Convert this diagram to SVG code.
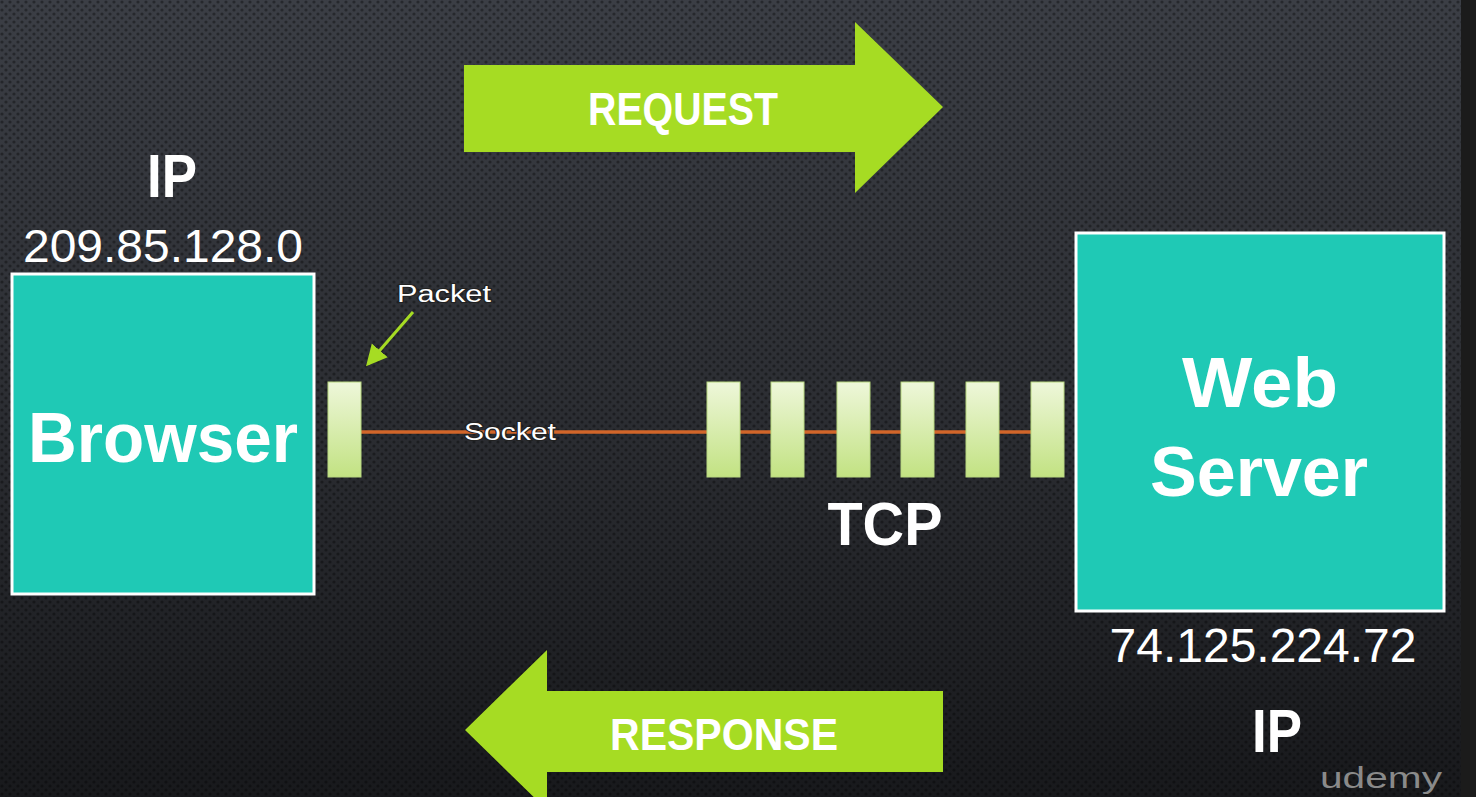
<svg xmlns="http://www.w3.org/2000/svg" width="1476" height="797" viewBox="0 0 1476 797">
  <defs>
    <linearGradient id="bg" x1="0" y1="0" x2="0" y2="1">
      <stop offset="0" stop-color="#3b3e45"/>
      <stop offset="0.5" stop-color="#2c2e33"/>
      <stop offset="1" stop-color="#18191c"/>
    </linearGradient>
    <pattern id="dots" width="8" height="8" patternUnits="userSpaceOnUse">
      <circle cx="2" cy="2" r="1.6" fill="#000" fill-opacity="0.35"/>
      <circle cx="6" cy="6" r="1.6" fill="#000" fill-opacity="0.35"/>
    </pattern>
    <linearGradient id="pk" x1="0" y1="0" x2="0" y2="1">
      <stop offset="0" stop-color="#eef7da"/>
      <stop offset="1" stop-color="#c2e282"/>
    </linearGradient>
    <marker id="ah" markerWidth="8" markerHeight="8" refX="6" refY="4" orient="auto" markerUnits="strokeWidth">
      <path d="M0,0.5 L7,4 L0,7.5 Z" fill="#a6dc23"/>
    </marker>
  </defs>
  <style>
    .box { fill: #1fc9b5; stroke: #ffffff; stroke-width: 3; }
    .pkt { fill: url(#pk); stroke: #b8d880; stroke-width: 1; }
    .big { fill: #ffffff; font-family: "Liberation Sans", Arial, sans-serif; font-weight: bold; }
    .num { fill: #ffffff; font-family: "Liberation Sans", Arial, sans-serif; font-weight: normal; }
    .small { fill: #ffffff; font-family: "Liberation Sans", Arial, sans-serif; font-size: 23px; paint-order: stroke; stroke: #222; stroke-width: 2; }
    .arrow { fill: #a6dc23; }
    .sock { stroke: #d2662a; stroke-width: 3.5; fill: none; }
  </style>

  <rect x="0" y="0" width="1476" height="797" fill="url(#bg)"/>
  <rect x="0" y="0" width="1476" height="797" fill="url(#dots)"/>
  <rect x="1461" y="0" width="15" height="797" fill="#1b1b1b"/>

  <g id="connectors">
    <line class="sock" x1="361" y1="432" x2="1033" y2="432"/>
    <line x1="413" y1="312" x2="368" y2="364" stroke="#a6dc23" stroke-width="3" marker-end="url(#ah)"/>
  </g>

  <g id="request">
    <path class="arrow" d="M464,65 L855,65 L855,22 L943,107 L855,193 L855,152 L464,152 Z"/>
    <text class="big" x="683" y="125" font-size="46" text-anchor="middle" textLength="190" lengthAdjust="spacingAndGlyphs">REQUEST</text>
  </g>

  <g id="response">
    <path class="arrow" d="M943,691 L547,691 L547,650 L465,730 L547,810 L547,772 L943,772 Z"/>
    <text class="big" x="724" y="750" font-size="45" text-anchor="middle" textLength="228" lengthAdjust="spacingAndGlyphs">RESPONSE</text>
  </g>

  <g id="browser">
    <text class="big" x="172" y="197" font-size="62" text-anchor="middle" textLength="50" lengthAdjust="spacingAndGlyphs">IP</text>
    <text class="num" x="163" y="262" font-size="47" text-anchor="middle" textLength="280" lengthAdjust="spacingAndGlyphs">209.85.128.0</text>
    <rect class="box" x="12" y="274" width="302" height="320"/>
    <text class="big" x="163" y="462" font-size="70" text-anchor="middle" textLength="270" lengthAdjust="spacingAndGlyphs">Browser</text>
  </g>

  <g id="webserver">
    <rect class="box" x="1076" y="233" width="368" height="378"/>
    <text class="big" x="1260" y="407" font-size="70" text-anchor="middle" textLength="156" lengthAdjust="spacingAndGlyphs">Web</text>
    <text class="big" x="1259" y="496" font-size="70" text-anchor="middle" textLength="218" lengthAdjust="spacingAndGlyphs">Server</text>
    <text class="num" x="1263" y="662" font-size="48" text-anchor="middle" textLength="307" lengthAdjust="spacingAndGlyphs">74.125.224.72</text>
    <text class="big" x="1277" y="752" font-size="62" text-anchor="middle" textLength="50" lengthAdjust="spacingAndGlyphs">IP</text>
  </g>

  <g id="packet-single">
    <rect class="pkt" x="328" y="382" width="33" height="95"/>
    <text class="small" x="444" y="302" text-anchor="middle" textLength="94" lengthAdjust="spacingAndGlyphs">Packet</text>
  </g>

  <g id="socket-label">
    <text class="small" x="510" y="440" text-anchor="middle" textLength="92" lengthAdjust="spacingAndGlyphs">Socket</text>
  </g>

  <g id="packets">
    <rect class="pkt" x="707" y="382" width="33" height="95"/>
    <rect class="pkt" x="771" y="382" width="33" height="95"/>
    <rect class="pkt" x="837" y="382" width="33" height="95"/>
    <rect class="pkt" x="901" y="382" width="33" height="95"/>
    <rect class="pkt" x="966" y="382" width="33" height="95"/>
    <rect class="pkt" x="1031" y="382" width="33" height="95"/>
  </g>

  <g id="tcp">
    <text class="big" x="885" y="545" font-size="62" text-anchor="middle" textLength="115" lengthAdjust="spacingAndGlyphs">TCP</text>
  </g>

  <g id="logo">
    <text x="1381" y="788" font-family="Liberation Sans, Arial, sans-serif" font-size="30" fill="#8a8a8a" text-anchor="middle" textLength="122" lengthAdjust="spacingAndGlyphs">udemy</text>
  </g>
</svg>
